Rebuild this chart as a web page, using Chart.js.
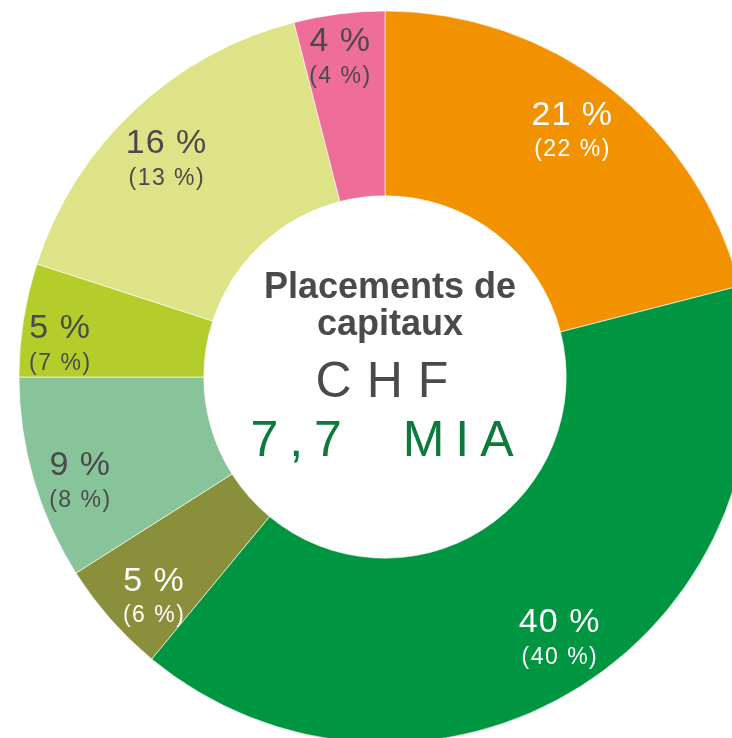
<!DOCTYPE html>
<html>
<head>
<meta charset="utf-8">
<script src="https://cdn.jsdelivr.net/npm/chart.js@4"></script>
<style>
  html, body { margin: 0; padding: 0; width: 732px; height: 738px; overflow: hidden; background: #ffffff; }
  #wrap { position: absolute; left: -5px; top: -13px; width: 780px; height: 780px; }
</style>
</head>
<body>
<div id="wrap"><canvas id="c" width="780" height="780"></canvas></div>
<script>
// ---- data ----
const categories = ['Catégorie 1', 'Catégorie 2', 'Catégorie 3', 'Catégorie 4', 'Catégorie 5', 'Catégorie 6', 'Catégorie 7'];
const shares = [21, 40, 5, 9, 5, 16, 4];          // current share, %
const previousShares = [22, 40, 6, 8, 7, 13, 4];  // previous share, % (in brackets)
const centerTitle = ['Placements de', 'capitaux'];
const centerCurrency = 'CHF';
const centerAmount = '7,7  MIA';

// ---- styles ----
const sliceColors = ['#F39200', '#009540', '#8A8F3B', '#88C49A', '#B4CD2A', '#DFE388', '#EE6D99'];
const labelColors = ['#ffffff', '#ffffff', '#ffffff', '#4a4a4a', '#4a4a4a', '#4a4a4a', '#4a4a4a'];
// label placement inside each ring slice: fraction of ring thickness, small angular nudge (deg)
const labelRingFraction = [0.76, 0.65, 0.69, 0.74, 0.80, 0.75, 0.85];
const labelAngleNudge = [-2.3, -2.9, 0, 0, -0.5, 0, -0.5];
const FONT = '"Liberation Sans", Arial, sans-serif';

const sliceLabels = {
  id: 'sliceLabels',
  afterDatasetsDraw(chart) {
    const ctx = chart.ctx;
    const meta = chart.getDatasetMeta(0);
    meta.data.forEach((arc, i) => {
      const p = arc.getProps(['x', 'y', 'startAngle', 'endAngle', 'innerRadius', 'outerRadius'], true);
      const mid = (p.startAngle + p.endAngle) / 2 + labelAngleNudge[i] * Math.PI / 180;
      const r = p.innerRadius + (p.outerRadius - p.innerRadius) * labelRingFraction[i];
      const cx = p.x + Math.cos(mid) * r;
      const cy = p.y + Math.sin(mid) * r;
      ctx.save();
      ctx.fillStyle = labelColors[i];
      ctx.textAlign = 'center';
      ctx.textBaseline = 'middle';
      ctx.letterSpacing = '1px';
      ctx.font = '34px ' + FONT;
      ctx.fillText(shares[i] + ' %', cx + 0.5, cy);
      ctx.letterSpacing = '1.5px';
      ctx.font = '23px ' + FONT;
      ctx.fillText('(' + previousShares[i] + ' %)', cx + 0.75, cy + 35);
      ctx.restore();
    });
  }
};

const centerText = {
  id: 'centerText',
  afterDraw(chart) {
    const ctx = chart.ctx;
    const arc = chart.getDatasetMeta(0).data[0];
    const x = arc.x, y = arc.y;
    ctx.save();
    ctx.textAlign = 'center';
    ctx.textBaseline = 'alphabetic';
    ctx.fillStyle = '#4a4a4a';
    ctx.font = 'bold 36px ' + FONT;
    ctx.fillText(centerTitle[0], x + 5, y - 79);
    ctx.fillText(centerTitle[1], x + 5, y - 42);
    ctx.font = '50px ' + FONT;
    ctx.letterSpacing = '15px';
    ctx.fillText(centerCurrency, x - 3 + 7.5, y + 20);
    ctx.fillStyle = '#0B7A3A';
    ctx.font = '50px ' + FONT;
    ctx.letterSpacing = '11px';
    ctx.fillText(centerAmount, x - 3 + 5.5, y + 79);
    ctx.restore();
  }
};

new Chart(document.getElementById('c'), {
  type: 'doughnut',
  data: {
    labels: categories,
    datasets: [{
      data: shares,
      backgroundColor: sliceColors,
      borderColor: 'rgba(255,255,255,0.6)',
      borderWidth: 1
    }]
  },
  options: {
    responsive: false,
    devicePixelRatio: 1,
    animation: false,
    radius: 366,
    cutout: '49.5%',
    rotation: 0,
    layout: { padding: 0 },
    plugins: {
      legend: { display: false },
      tooltip: { enabled: false }
    }
  },
  plugins: [sliceLabels, centerText]
});
</script>
</body>
</html>
